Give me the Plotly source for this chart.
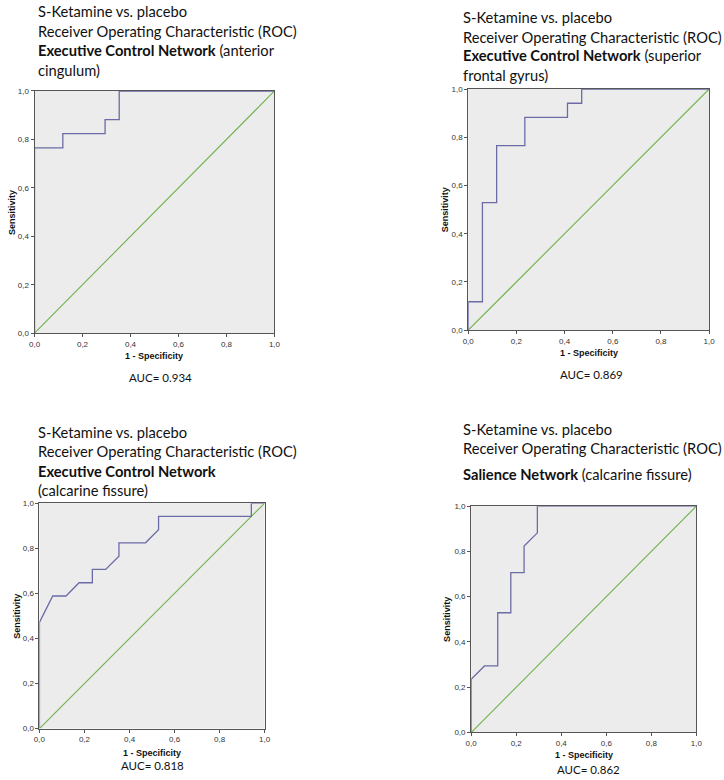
import plotly.graph_objects as go

W, H = 724, 780

# ROC curve data (1 - specificity, sensitivity)
p1_fpr = [0, 0, 0.118, 0.118, 0.294, 0.294, 0.353, 0.353, 1.0]
p1_tpr = [0, 0.765, 0.765, 0.824, 0.824, 0.882, 0.882, 1.0, 1.0]

p2_fpr = [0, 0, 0.059, 0.059, 0.118, 0.118, 0.235, 0.235, 0.412, 0.412, 0.471, 0.471, 1.0]
p2_tpr = [0, 0.118, 0.118, 0.529, 0.529, 0.765, 0.765, 0.882, 0.882, 0.941, 0.941, 1.0, 1.0]

p3_fpr = [0, 0, 0.059, 0.118, 0.176, 0.235, 0.235, 0.294, 0.353, 0.353, 0.471, 0.529, 0.529, 0.941, 0.941, 1.0]
p3_tpr = [0, 0.471, 0.588, 0.588, 0.647, 0.647, 0.706, 0.706, 0.765, 0.824, 0.824, 0.882, 0.941, 0.941, 1.0, 1.0]

p4_fpr = [0, 0, 0.059, 0.118, 0.118, 0.176, 0.176, 0.235, 0.235, 0.294, 0.294, 1.0]
p4_tpr = [0, 0.235, 0.294, 0.294, 0.529, 0.529, 0.706, 0.706, 0.824, 0.882, 1.0, 1.0]

diag_x = [0, 1]
diag_y = [0, 1]

auc_labels = ["AUC= 0.934", "AUC= 0.869", "AUC= 0.818", "AUC= 0.862"]

titles = [
    ["S-Ketamine vs. placebo", "Receiver Operating Characteristic (ROC)",
     "<b>Executive Control Network</b> (anterior", "cingulum)"],
    ["S-Ketamine vs. placebo", "Receiver Operating Characteristic (ROC)",
     "<b>Executive Control Network</b> (superior", "frontal gyrus)"],
    ["S-Ketamine vs. placebo", "Receiver Operating Characteristic (ROC)",
     "<b>Executive Control Network</b>", "(calcarine fissure)"],
    ["S-Ketamine vs. placebo", "Receiver Operating Characteristic (ROC)",
     "<b>Salience Network</b> (calcarine fissure)"],
]

tick_vals = [0, 0.2, 0.4, 0.6, 0.8, 1.0]
tick_text = ["0,0", "0,2", "0,4", "0,6", "0,8", "1,0"]

# panel boxes in pixels: (x0, x1, ytop, ybottom)
boxes = [(29, 273, 88, 333), (470, 715, 86, 330), (34, 263, 505, 733), (473, 702, 508, 737)]
title_pos = [(30, [7, 27, 47, 67]), (463, [13, 33, 52, 72]), (31, [433, 452, 472, 492]), (463, [430, 449, 475])]
auc_pos = [(157, 378), (595, 375), (149, 770), (592, 774)]
xt_pos = [356, 353, 758, 760]
yt_pos = [6, 446, 11, 449]

curves = [(p1_fpr, p1_tpr), (p2_fpr, p2_tpr), (p3_fpr, p3_tpr), (p4_fpr, p4_tpr)]

fig = go.Figure()
annotations = []
layout = {}
for i, ((fx, ty), (x0, x1, yt, yb)) in enumerate(zip(curves, boxes)):
    k = "" if i == 0 else str(i + 1)
    xa, ya = "x" + k, "y" + k
    fig.add_trace(go.Scatter(x=diag_x, y=diag_y, mode="lines", xaxis=xa, yaxis=ya,
                             line=dict(color="#6fb24c", width=1.1), showlegend=False, hoverinfo="skip"))
    fig.add_trace(go.Scatter(x=fx, y=ty, mode="lines", xaxis=xa, yaxis=ya,
                             line=dict(color="#6b6ba6", width=1.3), showlegend=False))
    common = dict(range=[0, 1], tickvals=tick_vals, ticktext=tick_text, ticks="outside", ticklen=3,
                  tickcolor="#555", tickfont=dict(family="Liberation Sans, Arial", size=8, color="#333"),
                  showline=True, linecolor="#555", linewidth=1, mirror=True, showgrid=False,
                  zeroline=False, fixedrange=True)
    layout["xaxis" + k] = dict(domain=[x0 / W, x1 / W], anchor=ya, **common)
    layout["yaxis" + k] = dict(domain=[1 - yb / H, 1 - yt / H], anchor=xa, **common)
    tx, tys = title_pos[i]
    for line, yy in zip(titles[i], tys):
        annotations.append(dict(text=line, x=tx / W, y=1 - yy / H, xref="paper", yref="paper",
                                xanchor="left", yanchor="middle", showarrow=False,
                                font=dict(family="Lato, Carlito, sans-serif", size=14.7, color="#111")))
    ax, ay = auc_pos[i]
    annotations.append(dict(text=auc_labels[i], x=ax / W, y=1 - ay / H, xref="paper", yref="paper",
                            xanchor="center", yanchor="middle", showarrow=False,
                            font=dict(family="Lato, sans-serif", size=11.5, color="#111")))
    annotations.append(dict(text="<b>1 - Specificity</b>", x=(x0 + x1) / 2 / W, y=1 - xt_pos[i] / H,
                            xref="paper", yref="paper", xanchor="center", yanchor="middle",
                            showarrow=False, font=dict(family="Liberation Sans, Arial", size=9, color="#111")))
    annotations.append(dict(text="<b>Sensitivity</b>", x=yt_pos[i] / W, y=1 - (yt + yb) / 2 / H,
                            xref="paper", yref="paper", xanchor="center", yanchor="middle", textangle=-90,
                            showarrow=False, font=dict(family="Liberation Sans, Arial", size=9, color="#111")))

fig.update_layout(width=W, height=H, margin=dict(l=0, r=0, t=0, b=0),
                  paper_bgcolor="white", plot_bgcolor="#ececec",
                  annotations=annotations, **layout)
fig.write_html("out.html", config={"displayModeBar": False})

# remove default page margins so the figure fills the window exactly
with open("out.html", "r", encoding="utf-8") as f:
    html = f.read()
html = html.replace("<head>", "<head><style>html,body{margin:0;padding:0;overflow:hidden;}</style>", 1)
with open("out.html", "w", encoding="utf-8") as f:
    f.write(html)
